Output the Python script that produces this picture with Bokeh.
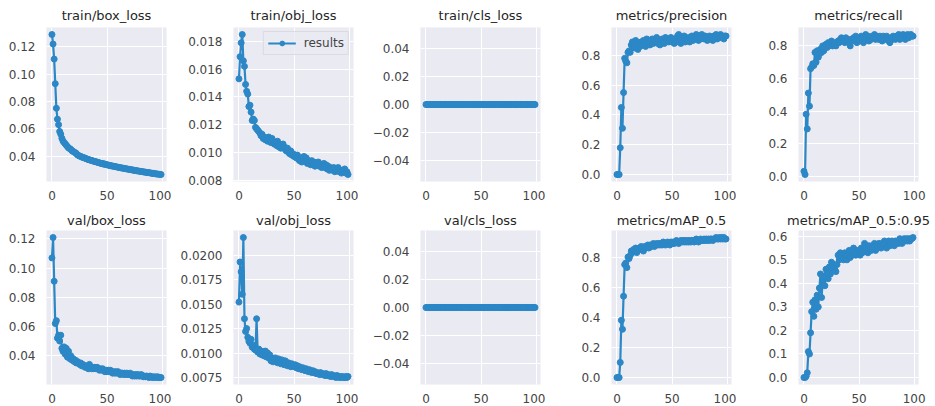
from bokeh.plotting import figure
from bokeh.layouts import column, row
from bokeh.models import FixedTicker, Range1d, Legend, LegendItem, ColumnDataSource
from bokeh.embed import file_html
from bokeh.resources import INLINE

epochs = list(range(100))

train_box_loss = [
    0.129, 0.122, 0.111, 0.093, 0.075, 0.067, 0.063, 0.058, 0.056, 0.053,
    0.051, 0.050, 0.049, 0.048, 0.047, 0.046, 0.0455, 0.045, 0.044, 0.0435,
    0.043, 0.0425, 0.042, 0.041, 0.0405, 0.040, 0.0398, 0.0393, 0.039, 0.0388,
    0.0385, 0.038, 0.0378, 0.0375, 0.0372, 0.037, 0.0367, 0.0365, 0.0362, 0.036,
    0.0358, 0.0355, 0.0353, 0.035, 0.0348, 0.0345, 0.0346, 0.034, 0.0342, 0.0338,
    0.0336, 0.0334, 0.0332, 0.033, 0.0328, 0.0327, 0.0325, 0.0323, 0.0322, 0.032,
    0.0318, 0.0317, 0.0315, 0.0313, 0.0312, 0.031, 0.0309, 0.0307, 0.0306, 0.0304,
    0.0303, 0.0301, 0.030, 0.0298, 0.0297, 0.0295, 0.0294, 0.0292, 0.0291, 0.029,
    0.0288, 0.0287, 0.0286, 0.0284, 0.0283, 0.0282, 0.028, 0.0279, 0.0278, 0.0277,
    0.0275, 0.0274, 0.0273, 0.0272, 0.027, 0.0269, 0.0268, 0.0267, 0.0266, 0.0265,
]
train_obj_loss = [
    0.0153, 0.0169, 0.0179, 0.0185, 0.0166, 0.0162, 0.0149, 0.0144, 0.0142, 0.0133,
    0.0134, 0.0129, 0.0123, 0.0124, 0.0123, 0.0118, 0.0117, 0.0116, 0.0115, 0.0114,
    0.0112, 0.0113, 0.0110, 0.0111, 0.0109, 0.0110, 0.0108, 0.0111, 0.0109, 0.0107,
    0.0110, 0.0108, 0.0106, 0.0107, 0.0105, 0.0108, 0.0104, 0.0106, 0.0103, 0.0105,
    0.0106, 0.0104, 0.0102, 0.0101, 0.0103, 0.0100, 0.0099, 0.0101, 0.0098, 0.0099,
    0.0097, 0.0098, 0.0096, 0.0098, 0.0095, 0.0094, 0.0096, 0.0093, 0.0095, 0.0097,
    0.0094, 0.0096, 0.0092, 0.0094, 0.0093, 0.0091, 0.0094, 0.0092, 0.0093, 0.0090,
    0.0092, 0.0091, 0.0093, 0.0090, 0.0091, 0.0089, 0.0090, 0.0092, 0.0089, 0.0091,
    0.0088, 0.0090, 0.0087, 0.0089, 0.0088, 0.0087, 0.0089, 0.0086, 0.0088, 0.0087,
    0.0089, 0.0086, 0.0087, 0.0085, 0.0087, 0.0086, 0.0088, 0.0085, 0.0086, 0.0084,
]
train_cls_loss = [
    0.0, 0.0, 0.0, 0.0, 0.0, 0.0, 0.0, 0.0, 0.0, 0.0,
    0.0, 0.0, 0.0, 0.0, 0.0, 0.0, 0.0, 0.0, 0.0, 0.0,
    0.0, 0.0, 0.0, 0.0, 0.0, 0.0, 0.0, 0.0, 0.0, 0.0,
    0.0, 0.0, 0.0, 0.0, 0.0, 0.0, 0.0, 0.0, 0.0, 0.0,
    0.0, 0.0, 0.0, 0.0, 0.0, 0.0, 0.0, 0.0, 0.0, 0.0,
    0.0, 0.0, 0.0, 0.0, 0.0, 0.0, 0.0, 0.0, 0.0, 0.0,
    0.0, 0.0, 0.0, 0.0, 0.0, 0.0, 0.0, 0.0, 0.0, 0.0,
    0.0, 0.0, 0.0, 0.0, 0.0, 0.0, 0.0, 0.0, 0.0, 0.0,
    0.0, 0.0, 0.0, 0.0, 0.0, 0.0, 0.0, 0.0, 0.0, 0.0,
    0.0, 0.0, 0.0, 0.0, 0.0, 0.0, 0.0, 0.0, 0.0, 0.0,
]
metrics_precision = [
    0.0, 0.0, 0.0, 0.18, 0.45, 0.31, 0.55, 0.78, 0.76, 0.75,
    0.82, 0.83, 0.82, 0.87, 0.89, 0.88, 0.85, 0.90, 0.87, 0.84,
    0.88, 0.86, 0.89, 0.87, 0.90, 0.88, 0.86, 0.91, 0.88, 0.90,
    0.87, 0.89, 0.91, 0.88, 0.90, 0.89, 0.92, 0.88, 0.90, 0.87,
    0.89, 0.91, 0.90, 0.88, 0.92, 0.90, 0.91, 0.89, 0.90, 0.92,
    0.89, 0.90, 0.88, 0.91, 0.89, 0.93, 0.94, 0.90, 0.88, 0.92,
    0.90, 0.93, 0.89, 0.91, 0.90, 0.92, 0.89, 0.91, 0.93, 0.90,
    0.92, 0.91, 0.94, 0.92, 0.90, 0.93, 0.91, 0.94, 0.92, 0.91,
    0.93, 0.92, 0.90, 0.92, 0.93, 0.91, 0.92, 0.90, 0.93, 0.92,
    0.94, 0.91, 0.93, 0.92, 0.94, 0.92, 0.93, 0.91, 0.93, 0.93,
]
metrics_recall = [
    0.03, 0.01, 0.38, 0.29, 0.51, 0.43, 0.66, 0.67, 0.69, 0.68,
    0.76, 0.70, 0.77, 0.73, 0.75, 0.78, 0.76, 0.80, 0.77, 0.79,
    0.81, 0.79, 0.82, 0.80, 0.81, 0.83, 0.80, 0.82, 0.81, 0.80,
    0.82, 0.83, 0.82, 0.84, 0.85, 0.83, 0.84, 0.82, 0.85, 0.83,
    0.84, 0.82, 0.80, 0.84, 0.83, 0.85, 0.84, 0.86, 0.82, 0.84,
    0.83, 0.85, 0.86, 0.84, 0.82, 0.85, 0.87, 0.84, 0.86, 0.83,
    0.85, 0.84, 0.86, 0.85, 0.87, 0.84, 0.86, 0.85, 0.84, 0.86,
    0.85, 0.83, 0.86, 0.85, 0.84, 0.86, 0.85, 0.83, 0.82, 0.85,
    0.84, 0.86, 0.85, 0.84, 0.86, 0.85, 0.87, 0.84, 0.86, 0.85,
    0.87, 0.85, 0.84, 0.86, 0.87, 0.85, 0.86, 0.87, 0.86, 0.86,
]
val_box_loss = [
    0.107, 0.121, 0.091, 0.062, 0.064, 0.052, 0.054, 0.050, 0.054, 0.045,
    0.043, 0.046, 0.041, 0.045, 0.039, 0.043, 0.038, 0.040, 0.037, 0.038,
    0.036, 0.037, 0.035, 0.036, 0.035, 0.034, 0.035, 0.033, 0.034, 0.033,
    0.032, 0.033, 0.032, 0.031, 0.034, 0.032, 0.031, 0.032, 0.031, 0.032,
    0.031, 0.032, 0.031, 0.030, 0.031, 0.030, 0.031, 0.030, 0.029, 0.030,
    0.029, 0.030, 0.029, 0.030, 0.029, 0.028, 0.029, 0.028, 0.029, 0.028,
    0.029, 0.028, 0.027, 0.028, 0.028, 0.027, 0.028, 0.027, 0.028, 0.027,
    0.027, 0.028, 0.027, 0.026, 0.027, 0.026, 0.027, 0.026, 0.027, 0.026,
    0.026, 0.027, 0.026, 0.0255, 0.026, 0.0255, 0.026, 0.0255, 0.025, 0.026,
    0.0255, 0.025, 0.0255, 0.025, 0.0255, 0.025, 0.0255, 0.025, 0.025, 0.025,
]
val_obj_loss = [
    0.0152, 0.0193, 0.0183, 0.0160, 0.0218, 0.0135, 0.0122, 0.0125, 0.0116, 0.0112,
    0.0110, 0.0114, 0.0106, 0.0108, 0.0104, 0.0103, 0.0135, 0.0101, 0.0104, 0.0099,
    0.0102, 0.0098, 0.0101, 0.0097, 0.0102, 0.0096, 0.0100, 0.0095, 0.0098, 0.0092,
    0.0095, 0.0091, 0.0093, 0.0095, 0.0092, 0.0090, 0.0094, 0.0091, 0.0089, 0.0093,
    0.0090, 0.0088, 0.0092, 0.0089, 0.0087, 0.0090, 0.0088, 0.0086, 0.0089, 0.0087,
    0.0086, 0.0088, 0.0085, 0.0087, 0.0084, 0.0086, 0.0084, 0.0083, 0.0085, 0.0083,
    0.0082, 0.0084, 0.0082, 0.0081, 0.0083, 0.0081, 0.0080, 0.0082, 0.0080, 0.0081,
    0.0079, 0.0080, 0.0079, 0.0078, 0.0080, 0.0078, 0.0079, 0.0078, 0.0077, 0.0079,
    0.0077, 0.0078, 0.0077, 0.0076, 0.0078, 0.0076, 0.0077, 0.0076, 0.0075, 0.0077,
    0.0076, 0.0075, 0.0076, 0.0075, 0.0076, 0.0075, 0.0075, 0.0076, 0.0075, 0.0076,
]
val_cls_loss = [
    0.0, 0.0, 0.0, 0.0, 0.0, 0.0, 0.0, 0.0, 0.0, 0.0,
    0.0, 0.0, 0.0, 0.0, 0.0, 0.0, 0.0, 0.0, 0.0, 0.0,
    0.0, 0.0, 0.0, 0.0, 0.0, 0.0, 0.0, 0.0, 0.0, 0.0,
    0.0, 0.0, 0.0, 0.0, 0.0, 0.0, 0.0, 0.0, 0.0, 0.0,
    0.0, 0.0, 0.0, 0.0, 0.0, 0.0, 0.0, 0.0, 0.0, 0.0,
    0.0, 0.0, 0.0, 0.0, 0.0, 0.0, 0.0, 0.0, 0.0, 0.0,
    0.0, 0.0, 0.0, 0.0, 0.0, 0.0, 0.0, 0.0, 0.0, 0.0,
    0.0, 0.0, 0.0, 0.0, 0.0, 0.0, 0.0, 0.0, 0.0, 0.0,
    0.0, 0.0, 0.0, 0.0, 0.0, 0.0, 0.0, 0.0, 0.0, 0.0,
    0.0, 0.0, 0.0, 0.0, 0.0, 0.0, 0.0, 0.0, 0.0, 0.0,
]
metrics_map50 = [
    0.0, 0.0, 0.0, 0.10, 0.38, 0.32, 0.54, 0.75, 0.76, 0.73,
    0.80, 0.79, 0.81, 0.84, 0.83, 0.85, 0.84, 0.86, 0.83, 0.85,
    0.86, 0.85, 0.87, 0.86, 0.84, 0.87, 0.86, 0.87, 0.88, 0.86,
    0.88, 0.87, 0.88, 0.89, 0.87, 0.88, 0.89, 0.88, 0.89, 0.88,
    0.89, 0.88, 0.90, 0.89, 0.88, 0.89, 0.90, 0.89, 0.88, 0.90,
    0.89, 0.90, 0.89, 0.90, 0.91, 0.90, 0.89, 0.90, 0.91, 0.90,
    0.91, 0.90, 0.91, 0.90, 0.91, 0.90, 0.91, 0.90, 0.91, 0.91,
    0.90, 0.91, 0.92, 0.91, 0.90, 0.91, 0.92, 0.91, 0.91, 0.92,
    0.91, 0.92, 0.91, 0.92, 0.91, 0.92, 0.92, 0.91, 0.92, 0.92,
    0.93, 0.92, 0.92, 0.93, 0.92, 0.93, 0.92, 0.93, 0.92, 0.92,
]
metrics_map50_95 = [
    0.0, 0.0, 0.005, 0.02, 0.11, 0.10, 0.19, 0.28, 0.32, 0.26,
    0.33, 0.29, 0.35, 0.30, 0.38, 0.44, 0.34, 0.41, 0.43, 0.39,
    0.46, 0.44, 0.42, 0.47, 0.44, 0.49, 0.46, 0.48, 0.47, 0.45,
    0.48, 0.52, 0.50, 0.53, 0.51, 0.52, 0.50, 0.53, 0.52, 0.50,
    0.52, 0.54, 0.51, 0.53, 0.52, 0.55, 0.53, 0.52, 0.54, 0.53,
    0.54, 0.52, 0.55, 0.53, 0.54, 0.57, 0.54, 0.55, 0.53, 0.56,
    0.55, 0.54, 0.56, 0.55, 0.57, 0.54, 0.56, 0.55, 0.57, 0.56,
    0.55, 0.57, 0.56, 0.58, 0.57, 0.55, 0.57, 0.58, 0.56, 0.57,
    0.58, 0.57, 0.56, 0.58, 0.57, 0.58, 0.57, 0.59, 0.58, 0.57,
    0.58, 0.59, 0.58, 0.59, 0.58, 0.59, 0.58, 0.59, 0.59, 0.595,
]

titles = [
    "train/box_loss", "train/obj_loss", "train/cls_loss", "metrics/precision", "metrics/recall",
    "val/box_loss", "val/obj_loss", "val/cls_loss", "metrics/mAP_0.5", "metrics/mAP_0.5:0.95",
]
series = [
    train_box_loss, train_obj_loss, train_cls_loss, metrics_precision, metrics_recall,
    val_box_loss, val_obj_loss, val_cls_loss, metrics_map50, metrics_map50_95,
]
x_ticks = [0, 50, 100]
x_tick_labels = ["0", "50", "100"]
y_ticks = [
    [0.04, 0.06, 0.08, 0.10, 0.12],
    [0.008, 0.010, 0.012, 0.014, 0.016, 0.018],
    [-0.04, -0.02, 0.0, 0.02, 0.04],
    [0.0, 0.2, 0.4, 0.6, 0.8],
    [0.0, 0.2, 0.4, 0.6, 0.8],
    [0.04, 0.06, 0.08, 0.10, 0.12],
    [0.0075, 0.0100, 0.0125, 0.0150, 0.0175, 0.0200],
    [-0.04, -0.02, 0.0, 0.02, 0.04],
    [0.0, 0.2, 0.4, 0.6, 0.8],
    [0.0, 0.1, 0.2, 0.3, 0.4, 0.5, 0.6],
]
y_tick_labels = [
    ["0.04", "0.06", "0.08", "0.10", "0.12"],
    ["0.008", "0.010", "0.012", "0.014", "0.016", "0.018"],
    ["\u22120.04", "\u22120.02", "0.00", "0.02", "0.04"],
    ["0.0", "0.2", "0.4", "0.6", "0.8"],
    ["0.0", "0.2", "0.4", "0.6", "0.8"],
    ["0.04", "0.06", "0.08", "0.10", "0.12"],
    ["0.0075", "0.0100", "0.0125", "0.0150", "0.0175", "0.0200"],
    ["\u22120.04", "\u22120.02", "0.00", "0.02", "0.04"],
    ["0.0", "0.2", "0.4", "0.6", "0.8"],
    ["0.0", "0.1", "0.2", "0.3", "0.4", "0.5", "0.6"],
]
legend_label = "results"

LINE = "#2C87C6"
BG = "#EAEAF2"
TXT = "#444444"
FONT = "DejaVu Sans"
left_borders = [46, 62, 62, 66, 62]
right_borders = [5, 5, 5, 5, 12]

figs = []
for i, (title, ys) in enumerate(zip(titles, series)):
    r, c = divmod(i, 5)
    kw = {}
    if all(v == 0 for v in ys):
        kw["y_range"] = Range1d(-0.055, 0.055)
    p = figure(
        frame_width=120, frame_height=154,
        min_border_left=left_borders[c], min_border_right=right_borders[c],
        min_border_top=(25 if r == 0 else 21), min_border_bottom=(26 if r == 0 else 20),
        output_backend="svg", toolbar_location=None,
        background_fill_color=BG, border_fill_color="white", title=title, **kw,
    )
    p.title.align = "center"
    p.title.text_font = FONT
    p.title.text_font_size = "13px"
    p.title.text_font_style = "normal"
    p.title.text_color = "#262626"
    p.title.standoff = (10 if r == 0 else 6)
    p.outline_line_color = None
    p.x_range.range_padding = 0.1
    src = ColumnDataSource(dict(x=epochs, y=ys))
    ln = p.line("x", "y", source=src, line_color=LINE, line_width=2.2)
    sc = p.scatter("x", "y", source=src, size=6, fill_color=LINE, line_color=LINE)
    p.xaxis.ticker = FixedTicker(ticks=x_ticks)
    p.xaxis.major_label_overrides = {float(t): l for t, l in zip(x_ticks, x_tick_labels)}
    p.yaxis.ticker = FixedTicker(ticks=y_ticks[i])
    p.yaxis.major_label_overrides = {float(t): l for t, l in zip(y_ticks[i], y_tick_labels[i])}
    for ax in (p.xaxis, p.yaxis):
        ax.axis_line_color = None
        ax.major_tick_line_color = None
        ax.minor_tick_line_color = None
        ax.major_label_text_font = FONT
        ax.major_label_text_font_size = "12px"
        ax.major_label_text_color = TXT
    p.xaxis.major_label_standoff = 3
    p.yaxis.major_label_standoff = 5
    p.xgrid.grid_line_color = "white"
    p.ygrid.grid_line_color = "white"
    p.xgrid.grid_line_width = 1
    p.ygrid.grid_line_width = 1
    if i == 1:
        leg = Legend(items=[LegendItem(label=legend_label, renderers=[ln, sc])],
                     location="top_right")
        leg.label_text_font = FONT
        leg.label_text_font_size = "12px"
        leg.label_text_color = TXT
        leg.background_fill_color = BG
        leg.background_fill_alpha = 0.8
        leg.border_line_color = "#cccccc"
        leg.glyph_width = 28
        leg.glyph_height = 12
        leg.padding = 4
        leg.margin = 4
        leg.spacing = 0
        leg.label_standoff = 8
        p.add_layout(leg, "center")
    figs.append(p)

layout = column(row(*figs[:5]), row(*figs[5:]))
open("out.html", "w").write(file_html(layout, INLINE))
